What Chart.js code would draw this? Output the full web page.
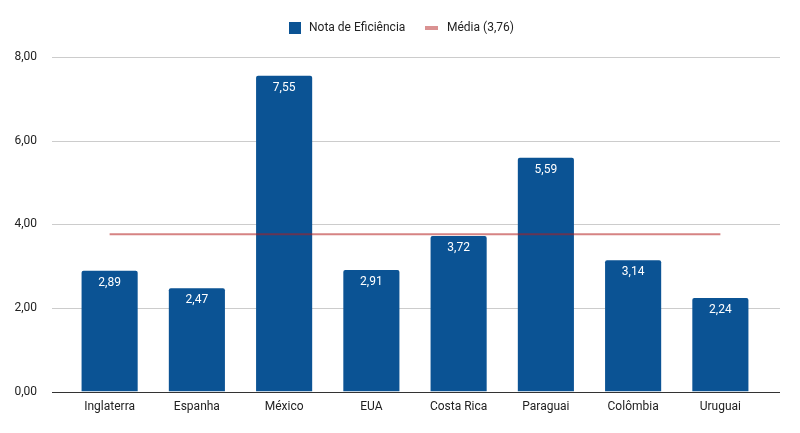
<!DOCTYPE html>
<html><head><meta charset="utf-8">
<script src="https://cdn.jsdelivr.net/npm/chart.js@4"></script>
<style>html,body{margin:0;padding:0;background:#fff}#c{display:block}</style>
</head><body>
<canvas id="c" width="800" height="433"></canvas>
<script>
const categories = ["Inglaterra","Espanha","México","EUA","Costa Rica","Paraguai","Colômbia","Uruguai"];
const notaValues = [2.89,2.47,7.55,2.91,3.72,5.59,3.14,2.24];
const mediaValue = 3.76;
const mediaValues = categories.map(() => mediaValue);
const yTicks = [0,2,4,6,8];
const seriesNames = ["Nota de Eficiência","Média (3,76)"];

const BLUE = "#0b5394";
const LINE = "rgba(180,30,30,0.55)";
const FONT = "Roboto, 'Liberation Sans', Arial, sans-serif";
const fmt = v => v.toFixed(2).replace('.', ',');

const gridPlugin = {
  id: 'grid',
  beforeDatasetsDraw(chart) {
    const {ctx, scales} = chart;
    const y = scales.y;
    ctx.save();
    yTicks.forEach(t => {
      const py = Math.round(y.getPixelForValue(t)) + 0.5;
      ctx.beginPath();
      ctx.strokeStyle = t === 0 ? "#333333" : "#cccccc";
      ctx.lineWidth = 1;
      ctx.moveTo(52, py);
      ctx.lineTo(780, py);
      ctx.stroke();
    });
    ctx.restore();
  }
};

const labelPlugin = {
  id: 'labels',
  afterDatasetsDraw(chart) {
    const {ctx} = chart;
    const meta = chart.getDatasetMeta(1);
    ctx.save();
    ctx.fillStyle = "#ffffff";
    ctx.font = "12px " + FONT;
    ctx.textAlign = "center";
    ctx.textBaseline = "middle";
    meta.data.forEach((bar, i) => {
      ctx.fillText(fmt(notaValues[i]), bar.x, bar.y + 12);
    });
    ctx.restore();
  }
};

const legendPlugin = {
  id: 'customLegend',
  afterDraw(chart) {
    const {ctx} = chart;
    ctx.save();
    ctx.font = "12px " + FONT;
    ctx.textBaseline = "middle";
    const yc = 28;
    ctx.fillStyle = BLUE;
    ctx.fillRect(289, yc - 6, 12, 12);
    ctx.fillStyle = "#222222";
    ctx.fillText(seriesNames[0], 309, yc);
    ctx.fillStyle = "rgba(205,110,110,0.75)";
    ctx.fillRect(425, yc - 2, 13, 4);
    ctx.fillStyle = "#222222";
    ctx.fillText(seriesNames[1], 447, yc);
    ctx.restore();
  }
};

new Chart(document.getElementById('c'), {
  data: {
    labels: categories,
    datasets: [
      {
        type: 'line',
        label: seriesNames[1],
        data: mediaValues,
        borderColor: LINE,
        borderWidth: 2,
        pointRadius: 0,
        pointHoverRadius: 0,
        fill: false,
        order: 0
      },
      {
        type: 'bar',
        label: seriesNames[0],
        data: notaValues,
        backgroundColor: BLUE,
        borderRadius: {topLeft: 2, topRight: 2},
        borderSkipped: 'bottom',
        categoryPercentage: 1,
        barPercentage: 0.643,
        order: 1
      }
    ]
  },
  options: {
    responsive: false,
    animation: false,
    layout: {padding: {left: 0, right: 36, top: 57, bottom: 19}},
    plugins: {legend: {display: false}, tooltip: {enabled: false}},
    scales: {
      x: {
        offset: true,
        grid: {display: false},
        border: {display: false},
        ticks: {color: "#222222", font: {family: FONT, size: 12}, padding: 0, maxRotation: 0}
      },
      y: {
        min: 0, max: 8,
        afterFit(s) { s.width = 66; },
        afterBuildTicks(s) { s.ticks = yTicks.map(v => ({value: v})); },
        grid: {display: false},
        border: {display: false},
        ticks: {color: "#222222", font: {family: FONT, size: 12}, padding: 21, callback: v => fmt(v)}
      }
    }
  },
  plugins: [gridPlugin, labelPlugin, legendPlugin]
});
</script>
</body></html>
